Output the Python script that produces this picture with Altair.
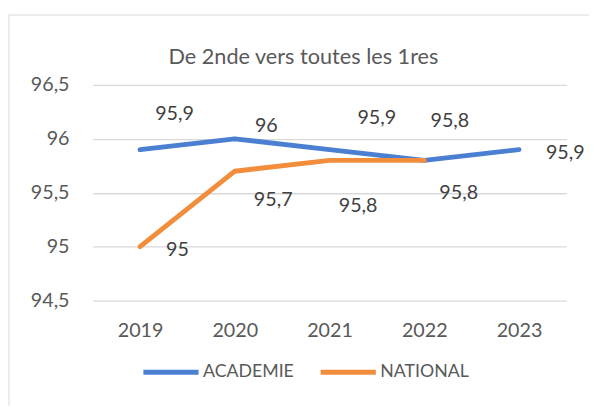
import altair as alt
import pandas as pd

years = ["2019", "2020", "2021", "2022", "2023"]
academie = [95.9, 96.0, 95.9, 95.8, 95.9]
national = [95.0, 95.7, 95.8, 95.8, None]
series_names = ["ACADEMIE", "NATIONAL"]
y_ticks = [94.5, 95.0, 95.5, 96.0, 96.5]
title_text = "De 2nde vers toutes les 1res"

# label placement offsets (pixels, style only)
label_offsets = {
    "ACADEMIE": [(35, -36), (32, -13), (48, -32), (26, -40), (47, 4)],
    "NATIONAL": [(38, 3), (39, 29), (29, 46), (35, 33), (0, 0)],
}

colors = ["#4A7FD2", "#F28D3C"]
FONT = "Lato"
GRID = "#D9D9D9"

rows = []
for name, vals in zip(series_names, [academie, national]):
    for yr, v in zip(years, vals):
        if v is None:
            continue
        rows.append({"year": yr, "series": name, "value": v,
                     "label": f"{v:g}".replace(".", ",")})
df = pd.DataFrame(rows)

x_enc = alt.X("year:O", scale=alt.Scale(type="point", padding=0.5, domain=years),
              axis=alt.Axis(title=None, labelAngle=0, ticks=False, domain=False, grid=False,
                            labelFont=FONT, labelFontSize=20, labelColor="#595959",
                            labelPadding=20))
y_enc = alt.Y("value:Q", scale=alt.Scale(domain=[94.5, 96.5], nice=False, zero=False),
              axis=alt.Axis(title=None, values=y_ticks, format="~g",
                            labelExpr="replace(datum.label, '.', ',')",
                            ticks=False, domain=False, grid=True, gridColor=GRID,
                            gridWidth=1.3, labelFont=FONT, labelFontSize=20,
                            labelColor="#595959", labelPadding=24))

lines = alt.Chart(df).mark_line(strokeWidth=5, strokeCap="round", strokeJoin="round").encode(
    x=x_enc, y=y_enc,
    color=alt.Color("series:N", scale=alt.Scale(domain=series_names, range=colors),
                    legend=alt.Legend(orient="none", legendX=49, legendY=261,
                                      direction="horizontal", title=None,
                                      symbolType="stroke", symbolSize=3136,
                                      symbolStrokeWidth=5, labelFont=FONT,
                                      labelFontSize=18, labelColor="#595959",
                                      labelOffset=2, columnPadding=16)),
)

layers = [lines]
for name in series_names:
    for i, yr in enumerate(years):
        sub = df[(df.series == name) & (df.year == yr)]
        if sub.empty:
            continue
        dx, dy = label_offsets[name][i]
        layers.append(
            alt.Chart(sub).mark_text(dx=dx, dy=dy, font=FONT, fontSize=20,
                                     color="#404040", baseline="middle", align="center")
            .encode(x=alt.X("year:O"), y=alt.Y("value:Q"), text="label:N")
        )

dummy = pd.DataFrame({"t": [title_text]})
title = alt.Chart(dummy).mark_text(font=FONT, fontSize=22, color="#595959",
                                   baseline="middle", align="center").encode(
    x=alt.value(214), y=alt.value(-28), text="t:N")
border_left = alt.Chart(dummy).mark_rule(color=GRID, strokeWidth=1).encode(
    x=alt.value(-85), y=alt.value(-71), y2=alt.value(326))
border_top = alt.Chart(dummy).mark_rule(color=GRID, strokeWidth=1).encode(
    x=alt.value(-85), x2=alt.value(504), y=alt.value(-71))
layers += [title, border_left, border_top]

chart = alt.layer(*layers).properties(
    width=481, height=219,
    padding={"left": 0, "top": 3, "right": 0, "bottom": 0},
).configure(background="white").configure_view(stroke=None)

chart.save("out.html", embed_options={"renderer": "svg", "actions": False})
